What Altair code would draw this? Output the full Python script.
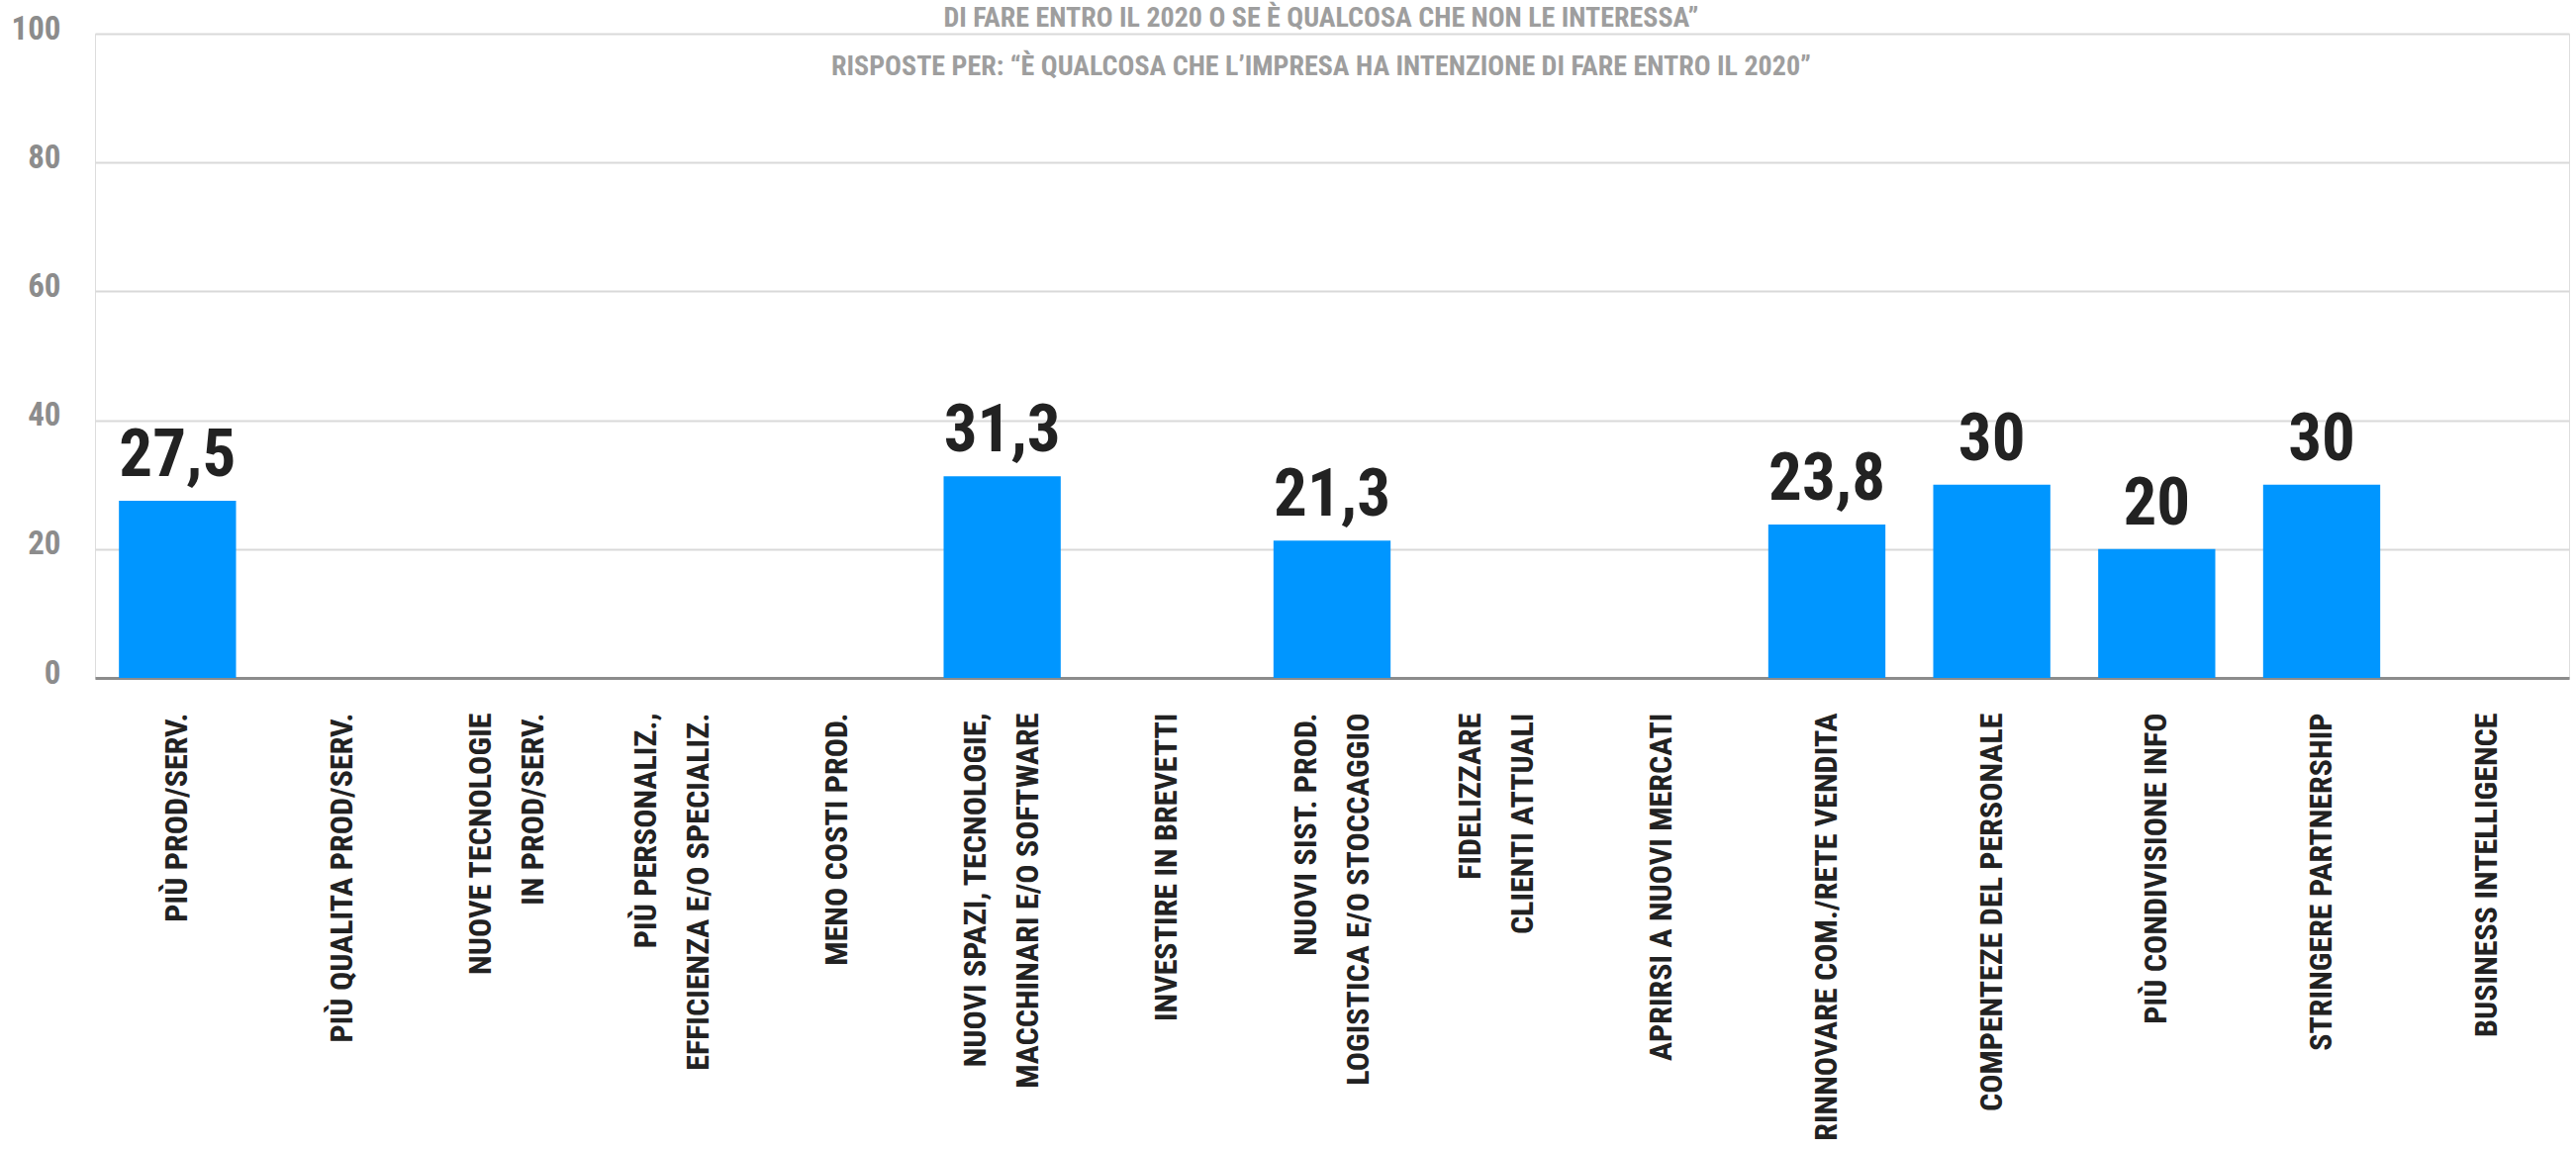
import altair as alt
import pandas as pd

categories = [
    "PIÙ PROD/SERV.",
    "PIÙ QUALITA PROD/SERV.",
    "NUOVE TECNOLOGIE\nIN PROD/SERV.",
    "PIÙ PERSONALIZ.,\nEFFICIENZA E/O SPECIALIZ.",
    "MENO COSTI PROD.",
    "NUOVI SPAZI, TECNOLOGIE,\nMACCHINARI E/O SOFTWARE",
    "INVESTIRE IN BREVETTI",
    "NUOVI SIST. PROD.\nLOGISTICA E/O STOCCAGGIO",
    "FIDELIZZARE\nCLIENTI ATTUALI",
    "APRIRSI A NUOVI MERCATI",
    "RINNOVARE COM./RETE VENDITA",
    "COMPENTEZE DEL PERSONALE",
    "PIÙ CONDIVISIONE INFO",
    "STRINGERE PARTNERSHIP",
    "BUSINESS INTELLIGENCE",
]
values = [27.5, 0, 0, 0, 0, 31.3, 0, 21.3, 0, 0, 23.8, 30, 20, 30, 0]
y_ticks = [0, 20, 40, 60, 80, 100]
title_lines = [
    "DI FARE ENTRO IL 2020 O SE È QUALCOSA CHE NON LE INTERESSA”",
    "RISPOSTE PER:  “È QUALCOSA CHE L’IMPRESA HA INTENZIONE DI FARE ENTRO IL 2020”",
]

FONT = "'Roboto Condensed', 'Liberation Sans Narrow', 'Arial Narrow', 'DejaVu Sans Condensed', sans-serif"
LINE_H = 53

df = pd.DataFrame({"cat": categories, "val": values})

base = alt.Chart(df).encode(
    x=alt.X(
        "cat:N",
        sort=categories,
        scale=alt.Scale(paddingInner=0.29, paddingOuter=0.145),
        axis=alt.Axis(
            title=None,
            labelAngle=270,
            labelExpr="split(datum.label, '\\n')",
            labelOffset={
                "condition": {
                    "test": "indexof(datum.label, '\\n') >= 0",
                    "value": -LINE_H / 2,
                },
                "value": 0,
            },
            ticks=False,
            domain=True,
            domainColor="#8c8c8c",
            domainWidth=3,
            labelPadding=35,
            labelFont=FONT,
            labelFontSize=32,
            labelFontWeight="bold",
            labelColor="#222222",
            labelLineHeight=LINE_H,
            labelLimit=0,
            grid=False,
        ),
    ),
    y=alt.Y(
        "val:Q",
        scale=alt.Scale(domain=[0, 100]),
        axis=alt.Axis(
            title=None,
            values=y_ticks,
            grid=True,
            gridColor="#d9d9d9",
            gridWidth=2,
            domain=False,
            ticks=False,
            labelPadding=35,
            labelFont=FONT,
            labelFontSize=33,
            labelFontWeight="bold",
            labelColor="#8c8c8c",
            labelOffset=-5,
        ),
    ),
)

bars = base.mark_bar(color="#0096FF")

text = (
    base.transform_filter("datum.val > 0")
    .transform_calculate(lbl="replace(format(datum.val, '.1~f'), '.', ',')")
    .mark_text(
        baseline="alphabetic",
        dy=-25,
        font=FONT,
        fontSize=67,
        fontWeight="bold",
        color="#222222",
    )
    .encode(text="lbl:N")
)

chart = (
    alt.layer(bars, text)
    .properties(
        width=2500,
        height=651,
        padding={"left": 96, "top": 34, "right": 7, "bottom": 477},
        autosize=alt.AutoSizeParams(type="none"),
        title=alt.TitleParams(
            text=title_lines,
            anchor="middle",
            frame="group",
            font=FONT,
            fontSize=28,
            fontWeight="bold",
            color="#9e9e9e",
            lineHeight=49,
            offset=-69,
            dx=-11,
        ),
    )
    .configure_view(stroke=None)
    .configure(background="white")
)

chart.save("out.html", embed_options={"renderer": "svg", "actions": False})
